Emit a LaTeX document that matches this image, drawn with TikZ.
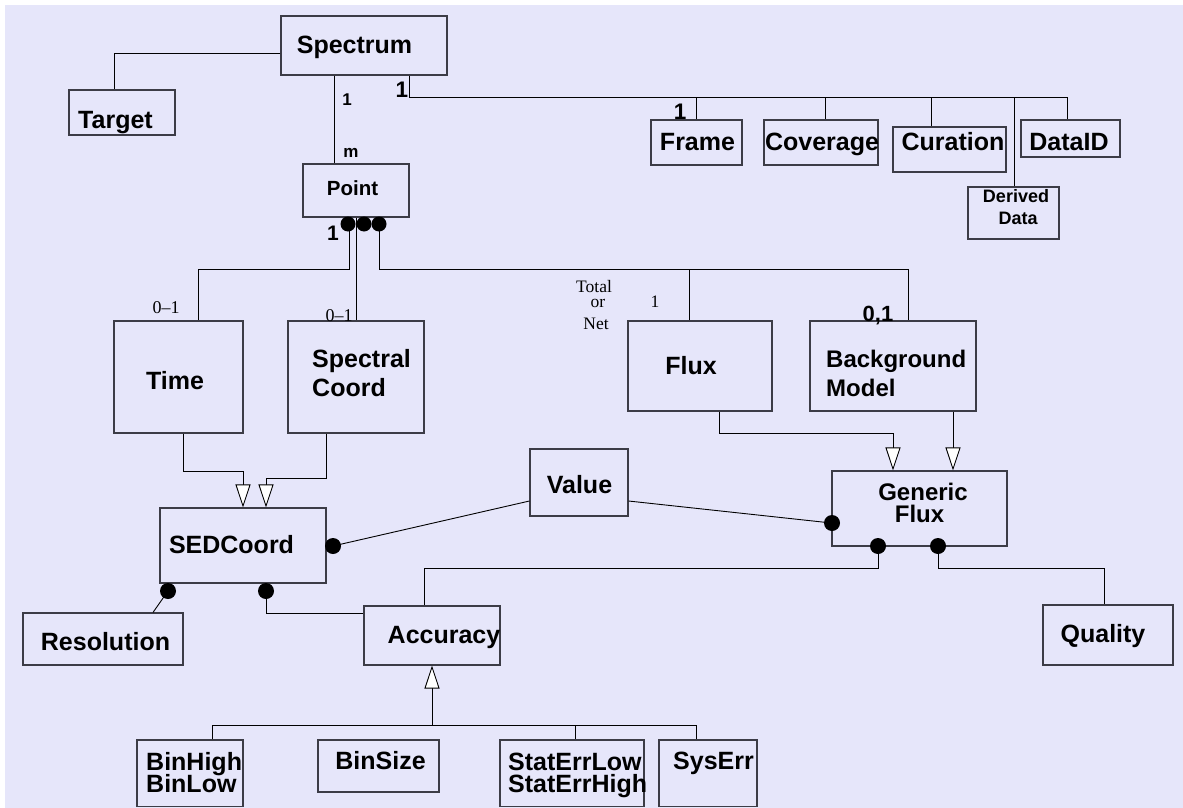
\documentclass[tikz,border=0pt]{standalone}
\usepackage{fontspec}
\setmainfont{Liberation Sans}
\newfontfamily\serifl{Liberation Serif}
\usetikzlibrary{arrows.meta,fit}
\definecolor{lav}{RGB}{230,230,250}
\definecolor{boxc}{RGB}{60,60,70}
\newcommand{\fsz}[1]{\fontsize{#1}{#1}\selectfont}
\begin{document}
\begin{tikzpicture}[x=1pt,y=-1pt,
  box/.style={draw=boxc, line width=1.1pt, inner sep=0pt, rectangle},
  lbl/.style={inner sep=0pt, anchor=base, font=\bfseries\fsz{25}},
  lbll/.style={lbl, anchor=base west},
  mult/.style={inner sep=0pt, anchor=base, font=\bfseries\fsz{#1}},
  ser/.style={inner sep=0pt, anchor=base, font=\serifl\fsz{17.5}},
  con/.style={draw=black, line width=0.9pt},
  gen/.style={con, -{Triangle[length=23pt,width=15pt,fill=white]}},
  dotc/.style={fill=black}
]
\useasboundingbox (0,0) rectangle (1183,808);
\fill[white] (0,0) rectangle (1183,808);
\fill[lav] (5,5) rectangle (1183,808);

% boxes
\node[box, fit={(281,16) (447,75)}] (spec) {};
\node[box, fit={(69,90) (175,135)}] (target) {};
\node[box, fit={(303,164) (409,217)}] (point) {};
\node[box, fit={(651,120) (742,165)}] (frame) {};
\node[box, fit={(764,120) (878,165)}] (cov) {};
\node[box, fit={(893,127) (1006,172)}] (cur) {};
\node[box, fit={(1021,120) (1120,157)}] (did) {};
\node[box, fit={(968,187) (1059,239)}] (der) {};
\node[box, fit={(114,321) (243,433)}] (time) {};
\node[box, fit={(288,321) (424,433)}] (spc) {};
\node[box, fit={(628,321) (772,411)}] (flux) {};
\node[box, fit={(810,321) (976,411)}] (bg) {};
\node[box, fit={(530,449) (628,516)}] (value) {};
\node[box, fit={(832,471) (1007,546)}] (gf) {};
\node[box, fit={(160,508) (326,583)}] (sed) {};
\node[box, fit={(23,613) (183,665)}] (res) {};
\node[box, fit={(364,606) (500,665)}] (acc) {};
\node[box, fit={(1043,605) (1173,665)}] (qual) {};
\node[box, fit={(137,740) (243,806.5)}] (bh) {};
\node[box, fit={(318,740) (439,792)}] (bs) {};
\node[box, fit={(500,740) (644,806.5)}] (se) {};
\node[box, fit={(659,740) (757,806.5)}] (sys) {};

% texts
\node[lbl] (specT) at (354.5,53) {Spectrum};
\node[lbl] (targetT) at (115.5,128) {Target};
\node[mult=20.5] (pointT) at (352.5,195) {Point};
\node[lbl] (frameT) at (697.5,150) {Frame};
\node[lbl] (covT) at (822,150) {Coverage};
\node[lbl] (curT) at (953,150) {Curation};
\node[lbl] (didT) at (1069,150) {DataID};
\node[mult=18] (derT1) at (1016,202) {Derived};
\node[mult=18] (derT2) at (1018,224) {Data};
\node[lbl] (timeT) at (175,389) {Time};
\node[lbll] (spcT1) at (312,367) {Spectral};
\node[lbll] (spcT2) at (312,396) {Coord};
\node[lbl] (fluxT) at (691,374) {Flux};
\node[lbll, font=\bfseries\fsz{24}] (bgT1) at (826,367) {Background};
\node[lbll, font=\bfseries\fsz{24}] (bgT2) at (826,396) {Model};
\node[lbl] (valueT) at (579.5,493) {Value};
\node[mult=24] (gfT1) at (923,500) {Generic};
\node[mult=24] (gfT2) at (919.5,522) {Flux};
\node[lbl] (sedT) at (231.5,553) {SEDCoord};
\node[lbl] (resT) at (105.5,650) {Resolution};
\node[lbl] (accT) at (444,643) {Accuracy};
\node[lbl] (qualT) at (1103,642) {Quality};
\node[lbll] (bhT1) at (146,770) {BinHigh};
\node[lbll] (bhT2) at (146,792) {BinLow};
\node[lbl] (bsT) at (380.5,769) {BinSize};
\node[lbll] (seT1) at (508,770) {StatErrLow};
\node[lbll] (seT2) at (508,792) {StatErrHigh};
\node[lbl] (sysT) at (713.5,769) {SysErr};

% multiplicities
\node[mult=17] (m1) at (347,105) {1};
\node[mult=17] (m2) at (351,157) {m};
\node[mult=22.5] (m3) at (402,97) {1};
\node[mult=22.5] (m4) at (680,119) {1};
\node[mult=21] (m5) at (333,240) {1};
\node[ser, font=\serifl\fsz{18}] (m6) at (166,313) {0–1};
\node[ser, font=\serifl\fsz{18}] (m7) at (339,321) {0–1};
\node[ser] (m8) at (594,292) {Total};
\node[ser] (m9) at (598,307) {or};
\node[ser] (m10) at (596,329) {Net};
\node[ser] (m11) at (655,307) {1};
\node[mult=22] (m12) at (878,321) {0,1};

% Spectrum connectors
\draw[con] (spec.west |- 0,53) -| (target.north -| 114,0);
\draw[con] (spec.south -| 334,0) -- (point.north -| 334,0);
\coordinate (busL) at (409,97);
\coordinate (busR) at (1067,97);
\draw[con] (spec.south -| 409,0) -- (busL) -- (busR) -- (did.north -| 1067,0);
\draw[con] (696,97) -- (frame.north -| 696,0);
\draw[con] (825,97) -- (cov.north -| 825,0);
\draw[con] (931,97) -- (cur.north -| 931,0);
\draw[con] (1014,97) -- (der.north -| 1014,0);

% Point connectors
\draw[con] (point.south -| 349,0) |- (198,269) -- (time.north -| 198,0);
\draw[con] (point.south -| 356,0) -- (spc.north -| 356,0);
\draw[con] (point.south -| 379,0) |- (908,269) -- (bg.north -| 908,0);
\draw[con] (689,269) -- (flux.north -| 689,0);

% generalisations
\draw[gen] (time.south -| 183,0) |- (243,471) -- (sed.north -| 243,0);
\draw[gen] (spc.south -| 326,0) |- (266,478) -- (sed.north -| 266,0);
\draw[gen] (flux.south -| 719,0) |- (893,433) -- (gf.north -| 893,0);
\draw[gen] (bg.south -| 953,0) -- (gf.north -| 953,0);
\draw[con] (bh.north -| 212,0) -- (212,725) -- (696,725) -- (sys.north -| 696,0);
\draw[con] (575,725) -- (se.north -| 575,0);
\draw[gen] (432,725) -- (acc.south -| 432,0);

% Value
\draw[con] (333,546) -- (value.west |- 0,501);
\draw[con] (value.east |- 0,501) -- (gf.west |- 0,523);

% Generic flux
\draw[con] (gf.south -| 878,0) |- (424,568) -- (acc.north -| 424,0);
\draw[con] (gf.south -| 938,0) |- (1104,568) -- (qual.north -| 1104,0);

% SEDCoord
\draw[con] (168,591) -- (res.north -| 153,0);
\draw[con] (266,591) |- (acc.west |- 0,613);

% dots
\fill[dotc] (348,224) circle[radius=7.5pt];
\fill[dotc] (364,224) circle[radius=7.5pt];
\fill[dotc] (379,224) circle[radius=7.5pt];
\fill[dotc] (333,546) circle[radius=8pt];
\fill[dotc] (832,523) circle[radius=8pt];
\fill[dotc] (878,546) circle[radius=8pt];
\fill[dotc] (938,546) circle[radius=8pt];
\fill[dotc] (168,591) circle[radius=8pt];
\fill[dotc] (266,591) circle[radius=8pt];
\end{tikzpicture}
\end{document}
